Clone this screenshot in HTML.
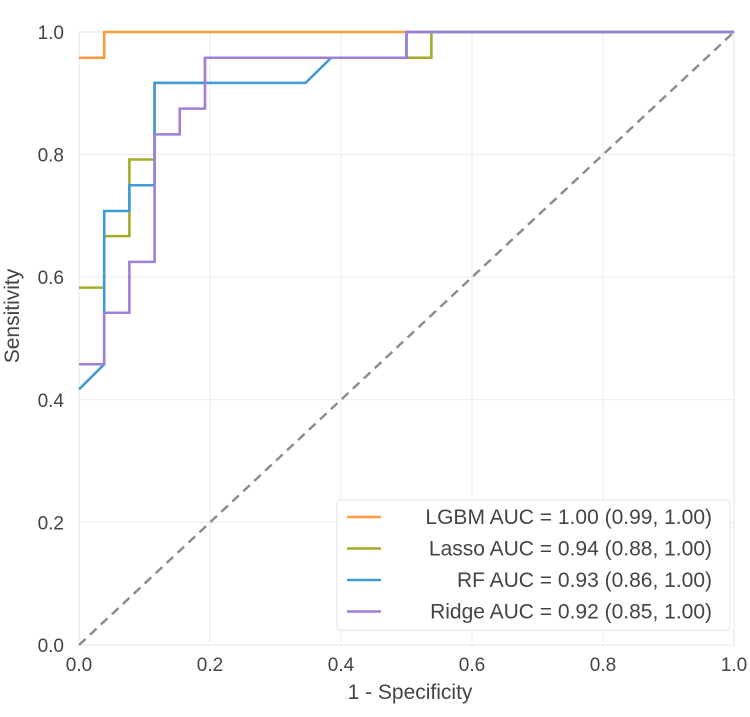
<!DOCTYPE html>
<html><head><meta charset="utf-8"><style>
body{margin:0;background:#fff;}
text{font-family:"Liberation Sans",sans-serif;fill:#444;}
</style></head><body>
<svg id="chart" width="750" height="712" xmlns="http://www.w3.org/2000/svg">
<g id="grid"></g>
<rect x="79" y="32" width="655" height="613" fill="none" stroke="#e6e6e6"/>
<g id="ticks"></g>
<line id="diag" stroke="#8c8c8c" stroke-width="2.5" stroke-dasharray="9,6"/>
<g id="series"></g>
<text x="410" y="699" font-size="21" text-anchor="middle">1 - Specificity</text>
<text transform="translate(19,316) rotate(-90)" font-size="21" text-anchor="middle">Sensitivity</text>
<g>
<rect x="337" y="500" width="393" height="130" fill="#fff" stroke="#e3e3e3" rx="3"/>
<g id="legend-items"></g>
</g>
</svg>
<script>
const xTicks=[0,0.2,0.4,0.6,0.8,1.0];
const yTicks=[0,0.2,0.4,0.6,0.8,1.0];
const names=["LGBM AUC = 1.00 (0.99, 1.00)","Lasso AUC = 0.94 (0.88, 1.00)","RF AUC = 0.93 (0.86, 1.00)","Ridge AUC = 0.92 (0.85, 1.00)"];
const colors=["#ff9940","#a5ac2a","#3f9ad6","#a07fdb"];
const lgbmX=[0,0.0385,0.0385,1];
const lgbmY=[0.958,0.958,1,1];
const lassoX=[0,0.0385,0.0385,0.0769,0.0769,0.1154,0.1154,0.1923,0.1923,0.538,0.538,1];
const lassoY=[0.583,0.583,0.667,0.667,0.792,0.792,0.917,0.917,0.958,0.958,1,1];
const rfX=[0,0.0385,0.0385,0.0769,0.0769,0.1154,0.1154,0.346,0.385,0.5,0.5,1];
const rfY=[0.417,0.458,0.708,0.708,0.75,0.75,0.917,0.917,0.958,0.958,1,1];
const ridgeX=[0,0.0385,0.0385,0.0769,0.0769,0.1154,0.1154,0.1538,0.1538,0.1923,0.1923,0.5,0.5,1];
const ridgeY=[0.458,0.458,0.542,0.542,0.625,0.625,0.833,0.833,0.875,0.875,0.958,0.958,1,1];
const seriesX=[lgbmX,lassoX,rfX,ridgeX];
const seriesY=[lgbmY,lassoY,rfY,ridgeY];
const sx=v=>79+v*655, sy=v=>645-v*613;
const NS="http://www.w3.org/2000/svg";
function mk(t,a,p){const e=document.createElementNS(NS,t);for(const k in a)e.setAttribute(k,a[k]);p.appendChild(e);return e;}
const grid=document.getElementById('grid'),ticks=document.getElementById('ticks');
xTicks.forEach(v=>{
 const l=mk('line',{x1:sx(v),x2:sx(v),y1:32,y2:645,stroke:'#ebebeb'},grid);
 
 
 const t=mk('text',{x:sx(v),y:671,'font-size':19,'text-anchor':'middle'},ticks);t.textContent=v.toFixed(1);
 
 
});
yTicks.forEach(v=>{
 const l=mk('line',{x1:79,x2:734,y1:sy(v),y2:sy(v),stroke:'#ebebeb'},grid);
 
 
 const t=mk('text',{x:64,y:sy(v)+7,'font-size':19,'text-anchor':'end'},ticks);t.textContent=v.toFixed(1);
 
 
});
const d=document.getElementById('diag');
d.setAttribute('x1',sx(0));d.setAttribute('y1',sy(0));d.setAttribute('x2',sx(1));d.setAttribute('y2',sy(1));
const sg=document.getElementById('series');
const snames=['lgbm-roc-curve','lasso-roc-curve','rf-roc-curve','ridge-roc-curve'];
[0,1,2,3].forEach(i=>{
 const pts=seriesX[i].map((x,j)=>sx(x)+','+sy(seriesY[i][j])).join(' ');
 const p=mk('polyline',{points:pts,fill:'none',stroke:colors[i],'stroke-width':2.6},sg);
 
 
});
const lg=document.getElementById('legend-items');
names.forEach((n,i)=>{
 const y=517+i*31.5;
 const l=mk('line',{x1:347,x2:381,y1:y,y2:y,stroke:colors[i],'stroke-width':2.6},lg);
 
 
 const t=mk('text',{x:712,y:y+7,'font-size':21,'text-anchor':'end'},lg);t.textContent=n;
 
 
});
</script>
</body></html>
